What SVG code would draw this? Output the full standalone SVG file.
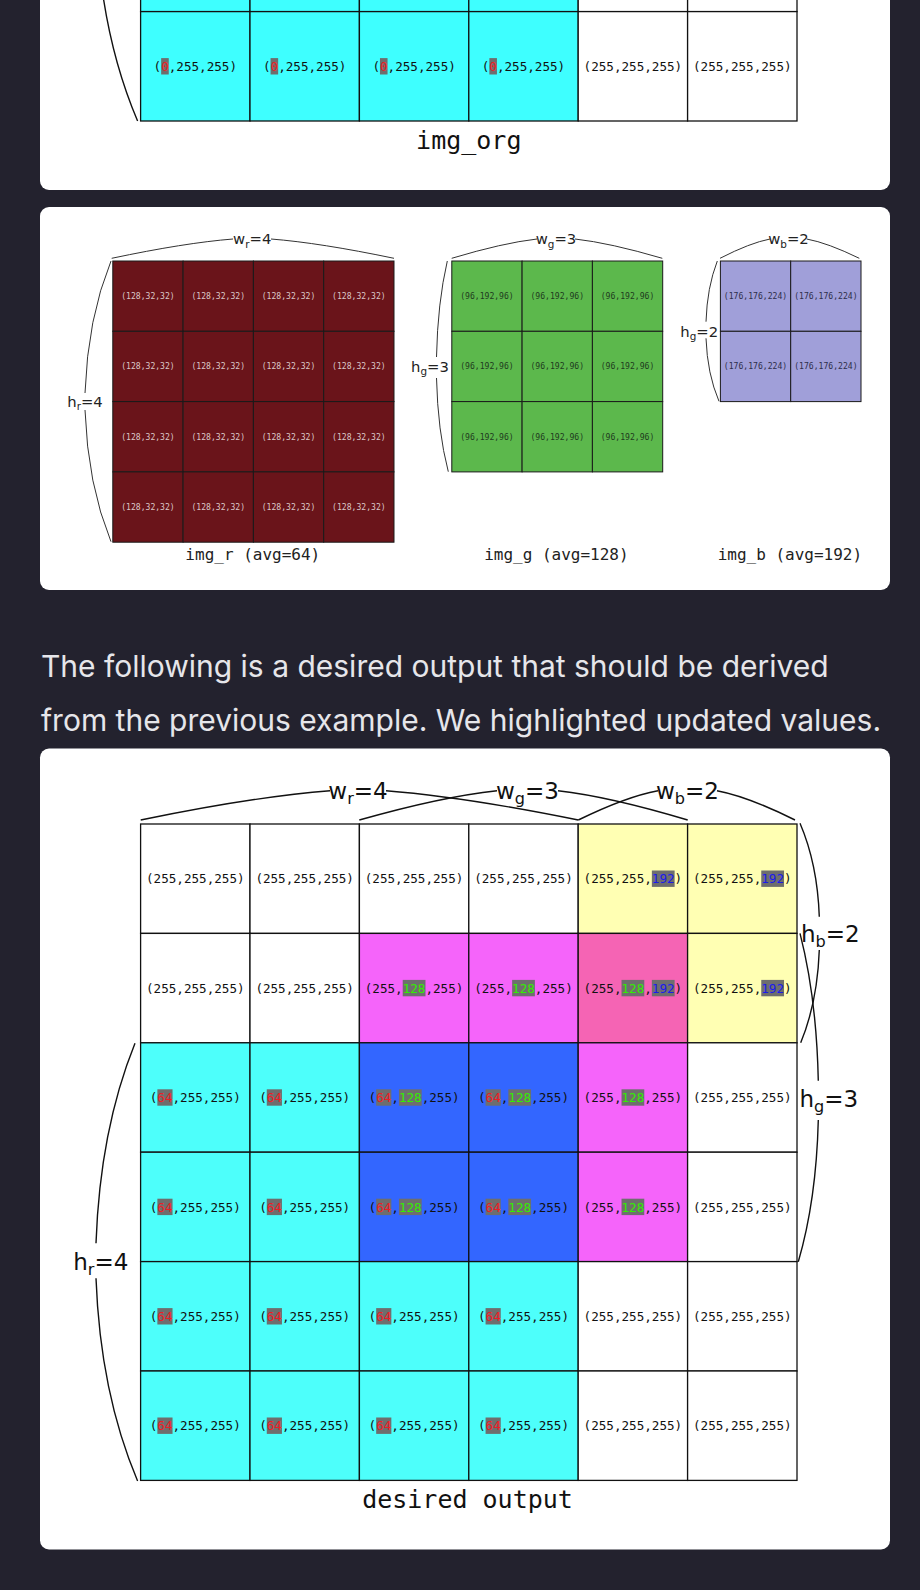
<svg xmlns="http://www.w3.org/2000/svg" width="920" height="1590" viewBox="0 0 920 1590">
<style>
.card{fill:#ffffff}
.c{stroke:#111;stroke-width:1.3}
.c2{stroke:#1a1a1a;stroke-width:1}
.w{fill:#ffffff}.cy{fill:#4dfffb}.cy0{fill:#3effff}.bl{fill:#3366ff}.mg{fill:#f564fa}.pk{fill:#f564b4}.yl{fill:#ffffb3}
.t{font-family:"DejaVu Sans Mono","Liberation Mono",monospace;font-size:12.6px;fill:#111}
.ts{font-family:"DejaVu Sans Mono","Liberation Mono",monospace;font-size:8.1px;text-anchor:middle}
.hl{fill:#6e6e6e}
.R{fill:#ee1c25}.G{fill:#33ee00}.B{fill:#1a1aee}
.br{fill:none;stroke:#111;stroke-width:1.4}
.br2{fill:none;stroke:#333;stroke-width:1}
.lb{font-family:"DejaVu Sans","Liberation Sans",sans-serif;font-size:23px;fill:#111}
.lb2{font-family:"DejaVu Sans","Liberation Sans",sans-serif;font-size:14.8px;fill:#222}
.cap{font-family:"DejaVu Sans Mono","Liberation Mono",monospace;font-size:25px;fill:#111;text-anchor:middle}
.cap2{font-family:"DejaVu Sans Mono","Liberation Mono",monospace;font-size:16px;fill:#222;text-anchor:middle}
.para{font-family:Inter,"Noto Sans",sans-serif;font-size:30px;fill:#e6e6ea}
.rr{fill:#6a141a}.rt{fill:#dcc8c8}.gg{fill:#5cb84c}.gt{fill:#1e3b1e}.bb{fill:#a09fd9}.bt{fill:#2e2e4a}
</style>
<rect x="0" y="0" width="920" height="1590" fill="#23222e"/>

<!-- Card 1: img_org (bottom part) -->
<g id="card-org">
<rect class="card" x="40" y="-20" width="850" height="210" rx="9"/>
<g id="org-prev-row">
<rect class="c cy0" x="140.6" y="-97.8" width="109.4" height="109.4"/>
<rect class="c cy0" x="250" y="-97.8" width="109.4" height="109.4"/>
<rect class="c cy0" x="359.4" y="-97.8" width="109.4" height="109.4"/>
<rect class="c cy0" x="468.8" y="-97.8" width="109.4" height="109.4"/>
<rect class="c w" x="578.2" y="-97.8" width="109.4" height="109.4"/>
<rect class="c w" x="687.6" y="-97.8" width="109.4" height="109.4"/>
</g>
<g id="org-r5c0"><rect class="c cy0" x="140.6" y="11.6" width="109.4" height="109.4"/><rect class="hl" x="161.16" y="58.1" width="7.59" height="16.4"/><text class="t" x="153.58" y="70.9">(<tspan class="R">0</tspan>,255,255)</text></g>
<g id="org-r5c1"><rect class="c cy0" x="250" y="11.6" width="109.4" height="109.4"/><rect class="hl" x="270.56" y="58.1" width="7.59" height="16.4"/><text class="t" x="262.98" y="70.9">(<tspan class="R">0</tspan>,255,255)</text></g>
<g id="org-r5c2"><rect class="c cy0" x="359.4" y="11.6" width="109.4" height="109.4"/><rect class="hl" x="379.96" y="58.1" width="7.59" height="16.4"/><text class="t" x="372.38" y="70.9">(<tspan class="R">0</tspan>,255,255)</text></g>
<g id="org-r5c3"><rect class="c cy0" x="468.8" y="11.6" width="109.4" height="109.4"/><rect class="hl" x="489.36" y="58.1" width="7.59" height="16.4"/><text class="t" x="481.78" y="70.9">(<tspan class="R">0</tspan>,255,255)</text></g>
<g id="org-r5c4"><rect class="c w" x="578.2" y="11.6" width="109.4" height="109.4"/><text class="t" x="583.59" y="70.9">(255,255,255)</text></g>
<g id="org-r5c5"><rect class="c w" x="687.6" y="11.6" width="109.4" height="109.4"/><text class="t" x="692.99" y="70.9">(255,255,255)</text></g>
<path class="br" d="M96,-82 Q100,32.7 137.6,121"/>
<text class="cap" x="468.8" y="149">img_org</text>
</g>

<!-- Card 2: img_r, img_g, img_b -->
<g id="card-rgb">
<rect class="card" x="40" y="207" width="850" height="383" rx="9"/>
<g id="img_r">
<rect class="c2 rr" x="112.8" y="261" width="70.3" height="70.3"/><rect class="c2 rr" x="183.1" y="261" width="70.3" height="70.3"/><rect class="c2 rr" x="253.4" y="261" width="70.3" height="70.3"/><rect class="c2 rr" x="323.7" y="261" width="70.3" height="70.3"/>
<rect class="c2 rr" x="112.8" y="331.3" width="70.3" height="70.3"/><rect class="c2 rr" x="183.1" y="331.3" width="70.3" height="70.3"/><rect class="c2 rr" x="253.4" y="331.3" width="70.3" height="70.3"/><rect class="c2 rr" x="323.7" y="331.3" width="70.3" height="70.3"/>
<rect class="c2 rr" x="112.8" y="401.6" width="70.3" height="70.3"/><rect class="c2 rr" x="183.1" y="401.6" width="70.3" height="70.3"/><rect class="c2 rr" x="253.4" y="401.6" width="70.3" height="70.3"/><rect class="c2 rr" x="323.7" y="401.6" width="70.3" height="70.3"/>
<rect class="c2 rr" x="112.8" y="471.9" width="70.3" height="70.3"/><rect class="c2 rr" x="183.1" y="471.9" width="70.3" height="70.3"/><rect class="c2 rr" x="253.4" y="471.9" width="70.3" height="70.3"/><rect class="c2 rr" x="323.7" y="471.9" width="70.3" height="70.3"/>
<text class="ts rt" x="147.95" y="299.1">(128,32,32)</text><text class="ts rt" x="218.25" y="299.1">(128,32,32)</text><text class="ts rt" x="288.55" y="299.1">(128,32,32)</text><text class="ts rt" x="358.85" y="299.1">(128,32,32)</text>
<text class="ts rt" x="147.95" y="369.4">(128,32,32)</text><text class="ts rt" x="218.25" y="369.4">(128,32,32)</text><text class="ts rt" x="288.55" y="369.4">(128,32,32)</text><text class="ts rt" x="358.85" y="369.4">(128,32,32)</text>
<text class="ts rt" x="147.95" y="439.7">(128,32,32)</text><text class="ts rt" x="218.25" y="439.7">(128,32,32)</text><text class="ts rt" x="288.55" y="439.7">(128,32,32)</text><text class="ts rt" x="358.85" y="439.7">(128,32,32)</text>
<text class="ts rt" x="147.95" y="510">(128,32,32)</text><text class="ts rt" x="218.25" y="510">(128,32,32)</text><text class="ts rt" x="288.55" y="510">(128,32,32)</text><text class="ts rt" x="358.85" y="510">(128,32,32)</text>
<text class="cap2" x="252.8" y="560">img_r (avg=64)</text>
</g>
<g id="img_g">
<rect class="c2 gg" x="451.8" y="261" width="70.3" height="70.3"/><rect class="c2 gg" x="522.1" y="261" width="70.3" height="70.3"/><rect class="c2 gg" x="592.4" y="261" width="70.3" height="70.3"/>
<rect class="c2 gg" x="451.8" y="331.3" width="70.3" height="70.3"/><rect class="c2 gg" x="522.1" y="331.3" width="70.3" height="70.3"/><rect class="c2 gg" x="592.4" y="331.3" width="70.3" height="70.3"/>
<rect class="c2 gg" x="451.8" y="401.6" width="70.3" height="70.3"/><rect class="c2 gg" x="522.1" y="401.6" width="70.3" height="70.3"/><rect class="c2 gg" x="592.4" y="401.6" width="70.3" height="70.3"/>
<text class="ts gt" x="486.95" y="299.1">(96,192,96)</text><text class="ts gt" x="557.25" y="299.1">(96,192,96)</text><text class="ts gt" x="627.55" y="299.1">(96,192,96)</text>
<text class="ts gt" x="486.95" y="369.4">(96,192,96)</text><text class="ts gt" x="557.25" y="369.4">(96,192,96)</text><text class="ts gt" x="627.55" y="369.4">(96,192,96)</text>
<text class="ts gt" x="486.95" y="439.7">(96,192,96)</text><text class="ts gt" x="557.25" y="439.7">(96,192,96)</text><text class="ts gt" x="627.55" y="439.7">(96,192,96)</text>
<text class="cap2" x="556.4" y="560">img_g (avg=128)</text>
</g>
<g id="img_b">
<rect class="c2 bb" x="720.4" y="261" width="70.3" height="70.3"/><rect class="c2 bb" x="790.7" y="261" width="70.3" height="70.3"/>
<rect class="c2 bb" x="720.4" y="331.3" width="70.3" height="70.3"/><rect class="c2 bb" x="790.7" y="331.3" width="70.3" height="70.3"/>
<text class="ts bt" x="755.55" y="299.1">(176,176,224)</text><text class="ts bt" x="825.85" y="299.1">(176,176,224)</text>
<text class="ts bt" x="755.55" y="369.4">(176,176,224)</text><text class="ts bt" x="825.85" y="369.4">(176,176,224)</text>
<text class="cap2" x="789.9" y="560">img_b (avg=192)</text>
</g>
<g id="rgb-labels">
<text class="lb2" x="252.2" y="244.4" text-anchor="middle">w<tspan font-size="10.4px" dy="3.2">r</tspan><tspan dy="-3.2">=4</tspan></text>
<text class="lb2" x="556" y="244.4" text-anchor="middle">w<tspan font-size="10.4px" dy="3.2">g</tspan><tspan dy="-3.2">=3</tspan></text>
<text class="lb2" x="788.5" y="244.4" text-anchor="middle">w<tspan font-size="10.4px" dy="3.2">b</tspan><tspan dy="-3.2">=2</tspan></text>
<text class="lb2" x="85" y="406.7" text-anchor="middle">h<tspan font-size="10.4px" dy="3.2">r</tspan><tspan dy="-3.2">=4</tspan></text>
<text class="lb2" x="430" y="371.7" text-anchor="middle">h<tspan font-size="10.4px" dy="3.2">g</tspan><tspan dy="-3.2">=3</tspan></text>
<text class="lb2" x="699.2" y="336.6" text-anchor="middle">h<tspan font-size="10.4px" dy="3.2">g</tspan><tspan dy="-3.2">=2</tspan></text>
</g>
</g>

<!-- Paragraph -->
<g id="paragraph">
<text class="para" x="41" y="676.7">The following is a desired output that should be derived</text>
<text class="para" x="41" y="730.7">from the previous example. We highlighted updated values.</text>
</g>

<!-- Card 3: desired output -->
<g id="card-out">
<rect class="card" x="40" y="748.5" width="850" height="801" rx="9"/>
<g id="out-r0c0"><rect class="c w" x="140.6" y="824" width="109.4" height="109.4"/><text class="t" x="145.99" y="883.3">(255,255,255)</text></g>
<g id="out-r0c1"><rect class="c w" x="250" y="824" width="109.4" height="109.4"/><text class="t" x="255.39" y="883.3">(255,255,255)</text></g>
<g id="out-r0c2"><rect class="c w" x="359.4" y="824" width="109.4" height="109.4"/><text class="t" x="364.79" y="883.3">(255,255,255)</text></g>
<g id="out-r0c3"><rect class="c w" x="468.8" y="824" width="109.4" height="109.4"/><text class="t" x="474.19" y="883.3">(255,255,255)</text></g>
<g id="out-r0c4"><rect class="c yl" x="578.2" y="824" width="109.4" height="109.4"/><rect class="hl" x="651.86" y="870.5" width="22.76" height="16.4"/><text class="t" x="583.59" y="883.3">(255,255,<tspan class="B">192</tspan>)</text></g>
<g id="out-r0c5"><rect class="c yl" x="687.6" y="824" width="109.4" height="109.4"/><rect class="hl" x="761.26" y="870.5" width="22.76" height="16.4"/><text class="t" x="692.99" y="883.3">(255,255,<tspan class="B">192</tspan>)</text></g>
<g id="out-r1c0"><rect class="c w" x="140.6" y="933.4" width="109.4" height="109.4"/><text class="t" x="145.99" y="992.7">(255,255,255)</text></g>
<g id="out-r1c1"><rect class="c w" x="250" y="933.4" width="109.4" height="109.4"/><text class="t" x="255.39" y="992.7">(255,255,255)</text></g>
<g id="out-r1c2"><rect class="c mg" x="359.4" y="933.4" width="109.4" height="109.4"/><rect class="hl" x="402.72" y="979.9" width="22.76" height="16.4"/><text class="t" x="364.79" y="992.7">(255,<tspan class="G">128</tspan>,255)</text></g>
<g id="out-r1c3"><rect class="c mg" x="468.8" y="933.4" width="109.4" height="109.4"/><rect class="hl" x="512.12" y="979.9" width="22.76" height="16.4"/><text class="t" x="474.19" y="992.7">(255,<tspan class="G">128</tspan>,255)</text></g>
<g id="out-r1c4"><rect class="c pk" x="578.2" y="933.4" width="109.4" height="109.4"/><rect class="hl" x="621.52" y="979.9" width="22.76" height="16.4"/><rect class="hl" x="651.86" y="979.9" width="22.76" height="16.4"/><text class="t" x="583.59" y="992.7">(255,<tspan class="G">128</tspan>,<tspan class="B">192</tspan>)</text></g>
<g id="out-r1c5"><rect class="c yl" x="687.6" y="933.4" width="109.4" height="109.4"/><rect class="hl" x="761.26" y="979.9" width="22.76" height="16.4"/><text class="t" x="692.99" y="992.7">(255,255,<tspan class="B">192</tspan>)</text></g>
<g id="out-r2c0"><rect class="c cy" x="140.6" y="1042.8" width="109.4" height="109.4"/><rect class="hl" x="157.37" y="1089.3" width="15.17" height="16.4"/><text class="t" x="149.78" y="1102.1">(<tspan class="R">64</tspan>,255,255)</text></g>
<g id="out-r2c1"><rect class="c cy" x="250" y="1042.8" width="109.4" height="109.4"/><rect class="hl" x="266.77" y="1089.3" width="15.17" height="16.4"/><text class="t" x="259.18" y="1102.1">(<tspan class="R">64</tspan>,255,255)</text></g>
<g id="out-r2c2"><rect class="c bl" x="359.4" y="1042.8" width="109.4" height="109.4"/><rect class="hl" x="376.17" y="1089.3" width="15.17" height="16.4"/><rect class="hl" x="398.92" y="1089.3" width="22.76" height="16.4"/><text class="t" x="368.58" y="1102.1">(<tspan class="R">64</tspan>,<tspan class="G">128</tspan>,255)</text></g>
<g id="out-r2c3"><rect class="c bl" x="468.8" y="1042.8" width="109.4" height="109.4"/><rect class="hl" x="485.57" y="1089.3" width="15.17" height="16.4"/><rect class="hl" x="508.32" y="1089.3" width="22.76" height="16.4"/><text class="t" x="477.98" y="1102.1">(<tspan class="R">64</tspan>,<tspan class="G">128</tspan>,255)</text></g>
<g id="out-r2c4"><rect class="c mg" x="578.2" y="1042.8" width="109.4" height="109.4"/><rect class="hl" x="621.52" y="1089.3" width="22.76" height="16.4"/><text class="t" x="583.59" y="1102.1">(255,<tspan class="G">128</tspan>,255)</text></g>
<g id="out-r2c5"><rect class="c w" x="687.6" y="1042.8" width="109.4" height="109.4"/><text class="t" x="692.99" y="1102.1">(255,255,255)</text></g>
<g id="out-r3c0"><rect class="c cy" x="140.6" y="1152.2" width="109.4" height="109.4"/><rect class="hl" x="157.37" y="1198.7" width="15.17" height="16.4"/><text class="t" x="149.78" y="1211.5">(<tspan class="R">64</tspan>,255,255)</text></g>
<g id="out-r3c1"><rect class="c cy" x="250" y="1152.2" width="109.4" height="109.4"/><rect class="hl" x="266.77" y="1198.7" width="15.17" height="16.4"/><text class="t" x="259.18" y="1211.5">(<tspan class="R">64</tspan>,255,255)</text></g>
<g id="out-r3c2"><rect class="c bl" x="359.4" y="1152.2" width="109.4" height="109.4"/><rect class="hl" x="376.17" y="1198.7" width="15.17" height="16.4"/><rect class="hl" x="398.92" y="1198.7" width="22.76" height="16.4"/><text class="t" x="368.58" y="1211.5">(<tspan class="R">64</tspan>,<tspan class="G">128</tspan>,255)</text></g>
<g id="out-r3c3"><rect class="c bl" x="468.8" y="1152.2" width="109.4" height="109.4"/><rect class="hl" x="485.57" y="1198.7" width="15.17" height="16.4"/><rect class="hl" x="508.32" y="1198.7" width="22.76" height="16.4"/><text class="t" x="477.98" y="1211.5">(<tspan class="R">64</tspan>,<tspan class="G">128</tspan>,255)</text></g>
<g id="out-r3c4"><rect class="c mg" x="578.2" y="1152.2" width="109.4" height="109.4"/><rect class="hl" x="621.52" y="1198.7" width="22.76" height="16.4"/><text class="t" x="583.59" y="1211.5">(255,<tspan class="G">128</tspan>,255)</text></g>
<g id="out-r3c5"><rect class="c w" x="687.6" y="1152.2" width="109.4" height="109.4"/><text class="t" x="692.99" y="1211.5">(255,255,255)</text></g>
<g id="out-r4c0"><rect class="c cy" x="140.6" y="1261.6" width="109.4" height="109.4"/><rect class="hl" x="157.37" y="1308.1" width="15.17" height="16.4"/><text class="t" x="149.78" y="1320.9">(<tspan class="R">64</tspan>,255,255)</text></g>
<g id="out-r4c1"><rect class="c cy" x="250" y="1261.6" width="109.4" height="109.4"/><rect class="hl" x="266.77" y="1308.1" width="15.17" height="16.4"/><text class="t" x="259.18" y="1320.9">(<tspan class="R">64</tspan>,255,255)</text></g>
<g id="out-r4c2"><rect class="c cy" x="359.4" y="1261.6" width="109.4" height="109.4"/><rect class="hl" x="376.17" y="1308.1" width="15.17" height="16.4"/><text class="t" x="368.58" y="1320.9">(<tspan class="R">64</tspan>,255,255)</text></g>
<g id="out-r4c3"><rect class="c cy" x="468.8" y="1261.6" width="109.4" height="109.4"/><rect class="hl" x="485.57" y="1308.1" width="15.17" height="16.4"/><text class="t" x="477.98" y="1320.9">(<tspan class="R">64</tspan>,255,255)</text></g>
<g id="out-r4c4"><rect class="c w" x="578.2" y="1261.6" width="109.4" height="109.4"/><text class="t" x="583.59" y="1320.9">(255,255,255)</text></g>
<g id="out-r4c5"><rect class="c w" x="687.6" y="1261.6" width="109.4" height="109.4"/><text class="t" x="692.99" y="1320.9">(255,255,255)</text></g>
<g id="out-r5c0"><rect class="c cy" x="140.6" y="1371" width="109.4" height="109.4"/><rect class="hl" x="157.37" y="1417.5" width="15.17" height="16.4"/><text class="t" x="149.78" y="1430.3">(<tspan class="R">64</tspan>,255,255)</text></g>
<g id="out-r5c1"><rect class="c cy" x="250" y="1371" width="109.4" height="109.4"/><rect class="hl" x="266.77" y="1417.5" width="15.17" height="16.4"/><text class="t" x="259.18" y="1430.3">(<tspan class="R">64</tspan>,255,255)</text></g>
<g id="out-r5c2"><rect class="c cy" x="359.4" y="1371" width="109.4" height="109.4"/><rect class="hl" x="376.17" y="1417.5" width="15.17" height="16.4"/><text class="t" x="368.58" y="1430.3">(<tspan class="R">64</tspan>,255,255)</text></g>
<g id="out-r5c3"><rect class="c cy" x="468.8" y="1371" width="109.4" height="109.4"/><rect class="hl" x="485.57" y="1417.5" width="15.17" height="16.4"/><text class="t" x="477.98" y="1430.3">(<tspan class="R">64</tspan>,255,255)</text></g>
<g id="out-r5c4"><rect class="c w" x="578.2" y="1371" width="109.4" height="109.4"/><text class="t" x="583.59" y="1430.3">(255,255,255)</text></g>
<g id="out-r5c5"><rect class="c w" x="687.6" y="1371" width="109.4" height="109.4"/><text class="t" x="692.99" y="1430.3">(255,255,255)</text></g>
<text class="cap" x="467.5" y="1508">desired output</text>
<g id="out-labels">
<text class="lb" x="358" y="799.1" text-anchor="middle">w<tspan font-size="16.1px" dy="5">r</tspan><tspan dy="-5">=4</tspan></text>
<text class="lb" x="527.5" y="799.1" text-anchor="middle">w<tspan font-size="16.1px" dy="5">g</tspan><tspan dy="-5">=3</tspan></text>
<text class="lb" x="687.5" y="799.1" text-anchor="middle">w<tspan font-size="16.1px" dy="5">b</tspan><tspan dy="-5">=2</tspan></text>
<text class="lb" x="801" y="942.3">h<tspan font-size="16.1px" dy="5">b</tspan><tspan dy="-5">=2</tspan></text>
<text class="lb" x="799.5" y="1106.7">h<tspan font-size="16.1px" dy="5">g</tspan><tspan dy="-5">=3</tspan></text>
<text class="lb" x="100.8" y="1270" text-anchor="middle">h<tspan font-size="16.1px" dy="5">r</tspan><tspan dy="-5">=4</tspan></text>
</g>
</g>

<!-- Connectors: braces -->
<g id="connectors">
<path class="br2" d="M111.7,258.3 Q184.5,242.9 233,239"/>
<path class="br2" d="M271,239 Q320.2,242.9 394,258.3"/>
<path class="br2" d="M451.7,258.3 Q502.9,242.9 537,239"/>
<path class="br2" d="M575,239 Q609.9,242.9 662.3,258.3"/>
<path class="br2" d="M720,258.3 Q750,242.9 770,239"/>
<path class="br2" d="M806.7,239 Q827.7,242.9 859.3,258.3"/>
<path class="br2" d="M111,261 Q87.6,318.4 85,393"/>
<path class="br2" d="M85,410 Q87.6,484.4 111,541.7"/>
<path class="br2" d="M447.3,261 Q437.6,302.8 436.5,357"/>
<path class="br2" d="M436.5,378 Q437.7,430.9 448.3,471.7"/>
<path class="br2" d="M717.3,261 Q707.1,287.4 706,321.7"/>
<path class="br2" d="M706,338.3 Q707.3,373.9 719,401.3"/>
<path class="br" d="M140.7,820 Q254.3,796.6 330,790.7"/>
<path class="br" d="M386,790.7 Q462.9,796.6 578.3,820"/>
<path class="br" d="M359.3,820 Q441.9,796.6 497,790.7"/>
<path class="br" d="M558,790.7 Q609.9,796.6 687.7,820"/>
<path class="br" d="M578.3,820 Q626.1,796.6 658,790.7"/>
<path class="br" d="M717,790.7 Q748.2,796.6 795,820"/>
<path class="br" d="M800,823.3 Q817.4,863.9 819.3,916.7"/>
<path class="br" d="M819.3,950 Q817.4,1002.4 800.7,1042.7"/>
<path class="br" d="M800,933.3 Q816.5,997.4 818.3,1080.7"/>
<path class="br" d="M818.3,1120 Q816.3,1200.1 798.3,1261.7"/>
<path class="br" d="M135,1043.3 Q99.9,1130.3 96,1243.3"/>
<path class="br" d="M96,1278.3 Q100.2,1392.7 137.6,1481"/>
</g>
</svg>
